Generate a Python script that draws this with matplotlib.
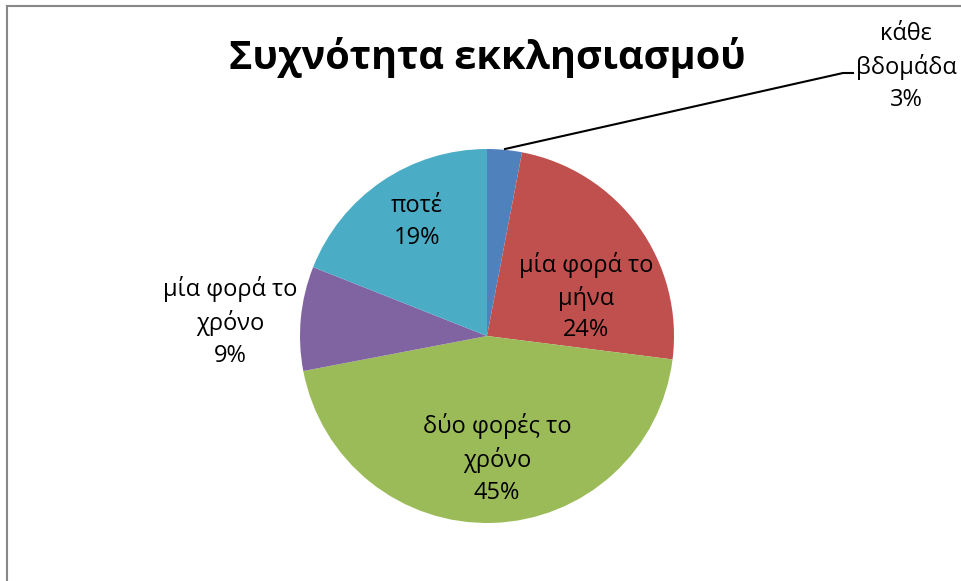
import matplotlib
matplotlib.use("Agg")
import matplotlib.pyplot as plt
from matplotlib.lines import Line2D

plt.rcParams['font.family'] = ['Open Sans', 'DejaVu Sans']

categories = ["κάθε βδομάδα", "μία φορά το μήνα", "δύο φορές το χρόνο", "μία φορά το χρόνο", "ποτέ"]
values = [3, 24, 45, 9, 19]
label_texts = ["κάθε\nβδομάδα\n3%", "μία φορά το\nμήνα\n24%", "δύο φορές το\nχρόνο\n45%",
               "μία φορά το\nχρόνο\n9%", "ποτέ\n19%"]
colors = ["#4F81BD", "#C0504D", "#9BBB59", "#8064A2", "#4BACC6"]
title = "Συχνότητα εκκλησιασμού"

W, H = 962, 581
fig = plt.figure(figsize=(W / 100, H / 100), dpi=100)

cx, cy, r = 487, 336, 187
ax = fig.add_axes([(cx - r) / W, (H - cy - r) / H, 2 * r / W, 2 * r / H])
ax.pie(values, colors=colors, startangle=90, counterclock=False, radius=1,
       wedgeprops=dict(linewidth=0))
ax.set_xlim(-1, 1)
ax.set_ylim(-1, 1)
ax.set_aspect('equal')
ax.axis('off')

def px(x, y):
    return ((x - cx) / r, (cy - y) / r)

label_pos = [(906, 67), (586, 297), (497, 459), (230, 322), (417, 222)]
for txt, (lx, ly) in zip(label_texts, label_pos):
    dx, dy = px(lx, ly)
    ax.text(dx, dy, txt, ha='center', va='center', fontsize=17, color='black',
            linespacing=1.42, clip_on=False)

# leader line for the small slice
p0 = px(505, 149); p1 = px(843, 73); p2 = px(853, 73)
ax.add_line(Line2D([p0[0], p1[0], p2[0]], [p0[1], p1[1], p2[1]], color='black', lw=1.5, clip_on=False))

fig.text(487 / W, 1 - 58 / H, title, ha='center', va='center', fontsize=28.5, fontweight='bold')

# frame lines (top and left)
fig.add_artist(Line2D([7 / W, 1], [1 - 6 / H, 1 - 6 / H], transform=fig.transFigure, color='#888888', lw=1.5))
fig.add_artist(Line2D([7 / W, 7 / W], [0, 1 - 6 / H], transform=fig.transFigure, color='#888888', lw=1.5))

fig.savefig("out.png", dpi=100, facecolor='white')
